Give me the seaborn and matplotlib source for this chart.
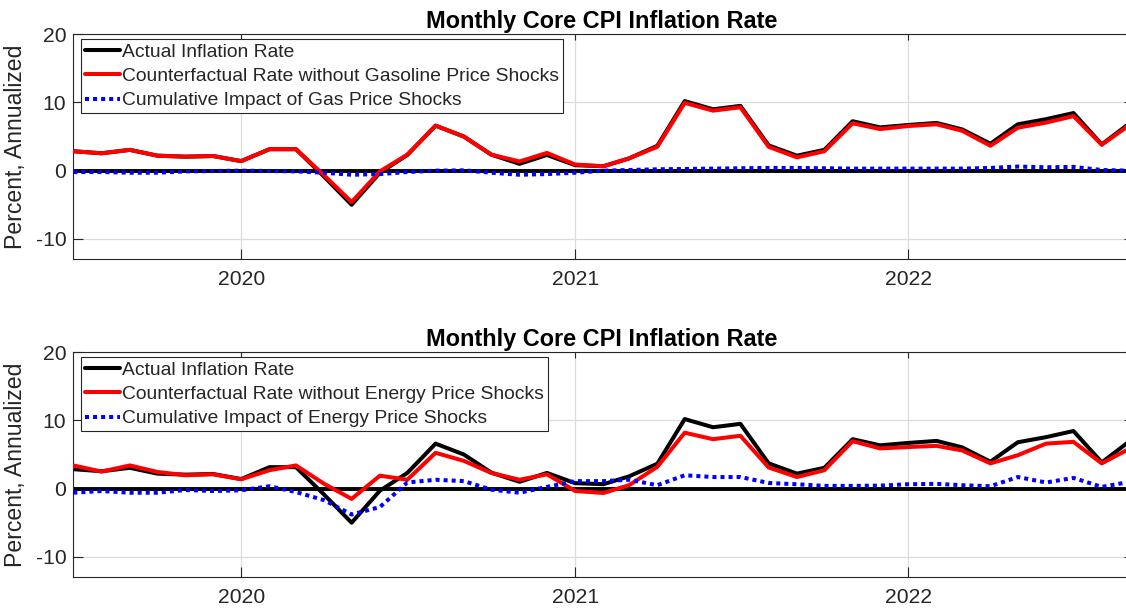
import numpy as np
import pandas as pd
import seaborn as sns
import matplotlib.pyplot as plt
import matplotlib.dates as mdates

# monthly data, Jul 2019 - Sep 2022 (percent, annualized)
months = pd.date_range('2019-07-01', '2022-09-01', freq='MS')

actual = [2.85, 2.55, 3.05, 2.2, 2.05, 2.15,
          1.4, 3.15, 3.15, -0.9, -5.0, -0.3, 2.3, 6.6, 5.0, 2.35, 1.0, 2.3,
          0.8, 0.65, 1.8, 3.65, 10.2, 9.0, 9.5, 3.7, 2.2, 3.05, 7.25, 6.35,
          6.7, 7.0, 6.05, 3.95, 6.8, 7.55, 8.45, 3.85, 7.0]

cf_gas = [2.85, 2.55, 3.05, 2.2, 2.05, 2.15,
          1.4, 3.15, 3.15, -0.7, -4.6, -0.1, 2.35, 6.6, 5.0, 2.35, 1.35, 2.6,
          0.9, 0.65, 1.8, 3.5, 9.95, 8.8, 9.3, 3.5, 1.95, 2.85, 6.95, 6.1,
          6.55, 6.8, 5.85, 3.65, 6.3, 7.05, 8.0, 3.8, 6.75]

impact_gas = [-0.2, -0.2, -0.3, -0.3, -0.1, -0.05,
              0.0, -0.05, -0.1, -0.3, -0.6, -0.5, -0.2, 0.0, 0.05, -0.3, -0.6, -0.5,
              -0.3, 0.0, 0.1, 0.2, 0.25, 0.3, 0.35, 0.4, 0.4, 0.35, 0.3, 0.3,
              0.3, 0.3, 0.3, 0.4, 0.6, 0.5, 0.55, 0.1, 0.0]

cf_energy = [3.4, 2.5, 3.4, 2.45, 1.96, 2.1,
             1.37, 2.7, 3.4, 0.7, -1.5, 1.9, 1.3, 5.25, 4.07, 2.3, 1.3, 2.1,
             -0.35, -0.64, 0.5, 3.2, 8.2, 7.25, 7.75, 3.1, 1.7, 2.7, 6.96, 5.9,
             6.1, 6.27, 5.6, 3.7, 4.9, 6.6, 6.86, 3.7, 5.9]

impact_energy = [-0.6, -0.35, -0.6, -0.6, -0.2, -0.35,
                 -0.25, 0.35, -0.5, -1.7, -3.8, -2.7, 0.9, 1.3, 1.1, -0.15, -0.6, 0.25,
                 1.1, 1.1, 1.3, 0.5, 1.96, 1.7, 1.7, 0.83, 0.64, 0.4, 0.4, 0.44,
                 0.64, 0.7, 0.5, 0.35, 1.7, 0.9, 1.57, 0.25, 1.0]

panels = [
    (cf_gas, impact_gas,
     'Counterfactual Rate without Gasoline Price Shocks',
     'Cumulative Impact of Gas Price Shocks'),
    (cf_energy, impact_energy,
     'Counterfactual Rate without Energy Price Shocks',
     'Cumulative Impact of Energy Price Shocks'),
]

sns.set_theme(style='ticks')
plt.rcParams['font.family'] = ['Liberation Sans', 'DejaVu Sans']
plt.rcParams['axes.unicode_minus'] = False
dark = '#262626'

fig = plt.figure(figsize=(11.26, 6.09), dpi=100)
axes_pos = [[0.0651, 0.5742, 0.9385, 0.3695],
            [0.0651, 0.0521, 0.9385, 0.3695]]

for pos, (cf, imp, cf_lab, imp_lab) in zip(axes_pos, panels):
    ax = fig.add_axes(pos)
    df = pd.DataFrame({'date': months, 'actual': actual, 'cf': cf, 'imp': imp})

    ax.axhline(0, color='black', lw=2.8, zorder=2.5)
    sns.lineplot(data=df, x='date', y='actual', ax=ax, color='black', lw=2.9,
                 label='Actual Inflation Rate', zorder=2)
    sns.lineplot(data=df, x='date', y='cf', ax=ax, color='#ff0000', lw=2.9,
                 label=cf_lab, zorder=3)
    sns.lineplot(data=df, x='date', y='imp', ax=ax, color='#0000ff', lw=2.9,
                 label=imp_lab, zorder=4, dashes=False)
    ax.lines[-1].set_linestyle((0, (1, 1)))

    ax.set_xlim(pd.Timestamp('2019-07-01'), pd.Timestamp('2022-09-01'))
    ax.set_ylim(-13, 20)
    ax.set_yticks([-10, 0, 10, 20])
    ax.set_xticks([pd.Timestamp(f'{y}-01-01') for y in (2020, 2021, 2022)])
    ax.xaxis.set_major_formatter(mdates.DateFormatter('%Y'))

    ax.grid(True, color='#dcdcdc', lw=0.9)
    ax.set_axisbelow(True)
    ax.tick_params(direction='in', top=True, right=True, length=7, width=0.8,
                   color=dark, labelcolor=dark, labelsize=15.2)
    ax.tick_params(axis='x', pad=8)
    ax.tick_params(axis='y', pad=5)
    for t in ax.xaxis.get_major_ticks() + ax.yaxis.get_major_ticks():
        t.tick2line.set_markersize(4)
    for s in ax.spines.values():
        s.set_color(dark)
        s.set_linewidth(0.8)

    ax.set_xlabel('')
    ax.set_ylabel('Percent, Annualized', fontsize=16.6, color=dark)
    ax.yaxis.set_label_coords(-0.0438, 0.5)
    ax.set_title('Monthly Core CPI Inflation Rate', fontsize=16.9,
                 fontweight='bold', color='black', pad=4.3)

    leg = ax.legend(loc='upper left', bbox_to_anchor=(0.007, 0.978),
                    borderaxespad=0, fontsize=13.85, handlelength=1.85,
                    handletextpad=0.12, labelspacing=0.36, borderpad=0.2,
                    fancybox=False, framealpha=1, edgecolor=dark)
    leg.get_frame().set_linewidth(0.8)
    for txt in leg.get_texts():
        txt.set_color(dark)

fig.savefig('out.png', dpi=100)
